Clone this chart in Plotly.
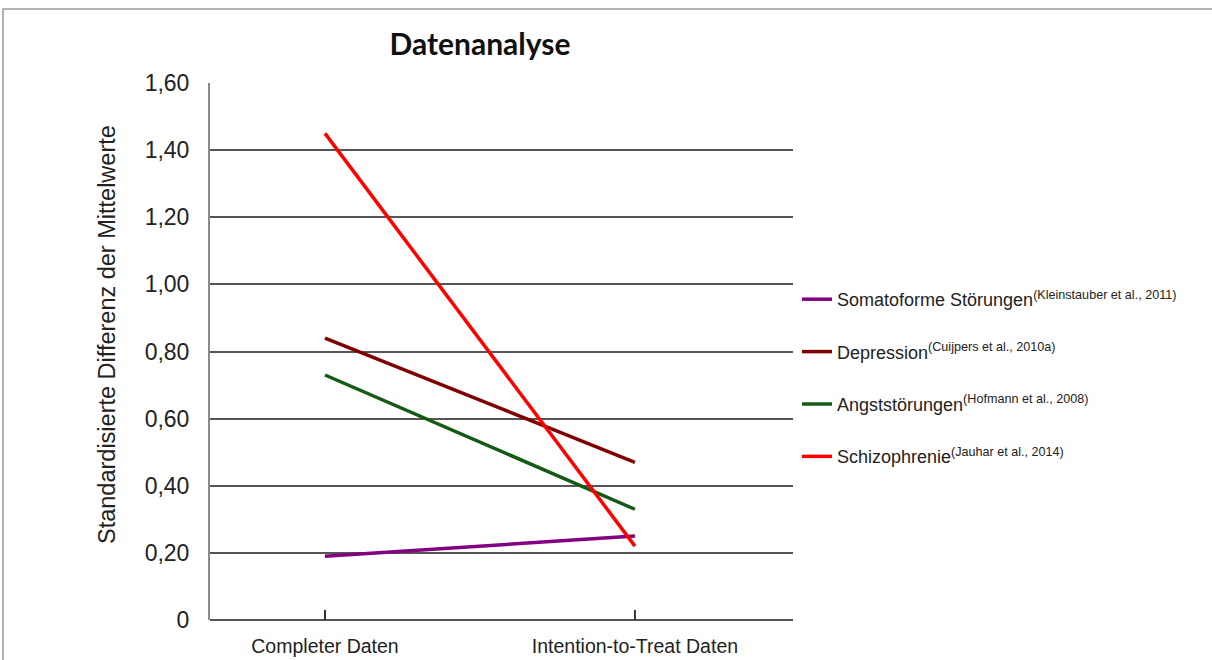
import plotly.graph_objects as go

# Kategorien und Effektstärken (standardisierte Mittelwertdifferenzen)
categories = ["Completer Daten", "Intention-to-Treat Daten"]
series_names = [
    "Somatoforme Störungen<sup>(Kleinstauber et al., 2011)</sup>",
    "Depression<sup>(Cuijpers et al., 2010a)</sup>",
    "Angststörungen<sup>(Hofmann et al., 2008)</sup>",
    "Schizophrenie<sup>(Jauhar et al., 2014)</sup>",
]
somatoforme = [0.19, 0.25]
depression = [0.84, 0.47]
angst = [0.73, 0.33]
schizophrenie = [1.45, 0.22]
series_values = [somatoforme, depression, angst, schizophrenie]
series_colors = ["#820082", "#800000", "#145a14", "#ff0000"]

y_ticks = [0, 0.2, 0.4, 0.6, 0.8, 1.0, 1.2, 1.4, 1.6]
y_tick_labels = ["0", "0,20", "0,40", "0,60", "0,80", "1,00", "1,20", "1,40", "1,60"]
y_title = "Standardisierte Differenz der Mittelwerte"

x_pos = list(range(len(categories)))

fig = go.Figure()
for i, (name, vals, col) in enumerate(zip(series_names, series_values, series_colors)):
    fig.add_trace(go.Scatter(
        x=x_pos, y=vals, mode="lines", name=name,
        line=dict(color=col, width=3.5),
        legendgroup=f"g{i}",
    ))

# Kreuzende Teilstriche an der Kategorienachse
shapes = []
for xp in x_pos:
    shapes.append(dict(type="line", xref="x", yref="y", x0=xp, x1=xp,
                       y0=-0.03, y1=0.03, line=dict(color="#333", width=2)))
# Rahmen um die Grafik
shapes.append(dict(type="rect", xref="paper", yref="paper",
                   x0=-0.355, x1=1.74, y0=-0.12, y1=1.138,
                   line=dict(color="#9a9a9a", width=1.5), layer="below"))

# Achsentitel der y-Achse als gedrehter Text
annotations = [dict(
    text=y_title, textangle=-90, showarrow=False,
    xref="paper", yref="paper", x=(107 - 210) / 583, y=(620 - 335) / 537,
    xanchor="center", yanchor="middle",
    font=dict(size=23.5, color="#222"),
)]

fig.update_layout(
    width=1212, height=660,
    margin=dict(l=210, r=419, t=83, b=40),
    paper_bgcolor="white", plot_bgcolor="white",
    font=dict(family="Liberation Sans, Arial, sans-serif", color="#222"),
    title=dict(text="<b>Datenanalyse</b>", x=480 / 1212, xanchor="center",
               y=1 - 44 / 660, yanchor="middle",
               font=dict(family="Lato, Liberation Sans, sans-serif",
                         size=30, color="#111")),
    xaxis=dict(
        range=[-0.371, 1.51], tickvals=x_pos, ticktext=categories,
        showgrid=False, zeroline=False, showline=False, ticks="",
        ticklabelstandoff=12, automargin=False,
        tickfont=dict(size=19.5, color="#222"),
    ),
    yaxis=dict(
        range=[0, 1.6], tickvals=y_ticks, ticktext=y_tick_labels,
        showgrid=True, gridcolor="#555", gridwidth=2,
        zeroline=True, zerolinecolor="#555", zerolinewidth=2,
        showline=True, linecolor="#8a8a8a", linewidth=2,
        ticks="", ticklabelstandoff=14, automargin=False,
        tickfont=dict(size=23, color="#222"),
    ),
    legend=dict(
        x=(797 - 210) / 583, y=(620 - 297 + 16) / 537, xanchor="left", yanchor="top",
        bgcolor="rgba(0,0,0,0)", font=dict(size=18, color="#222"),
        tracegroupgap=26, itemwidth=30,
    ),
    annotations=annotations,
    shapes=shapes,
)

fig.write_html("out.html")
